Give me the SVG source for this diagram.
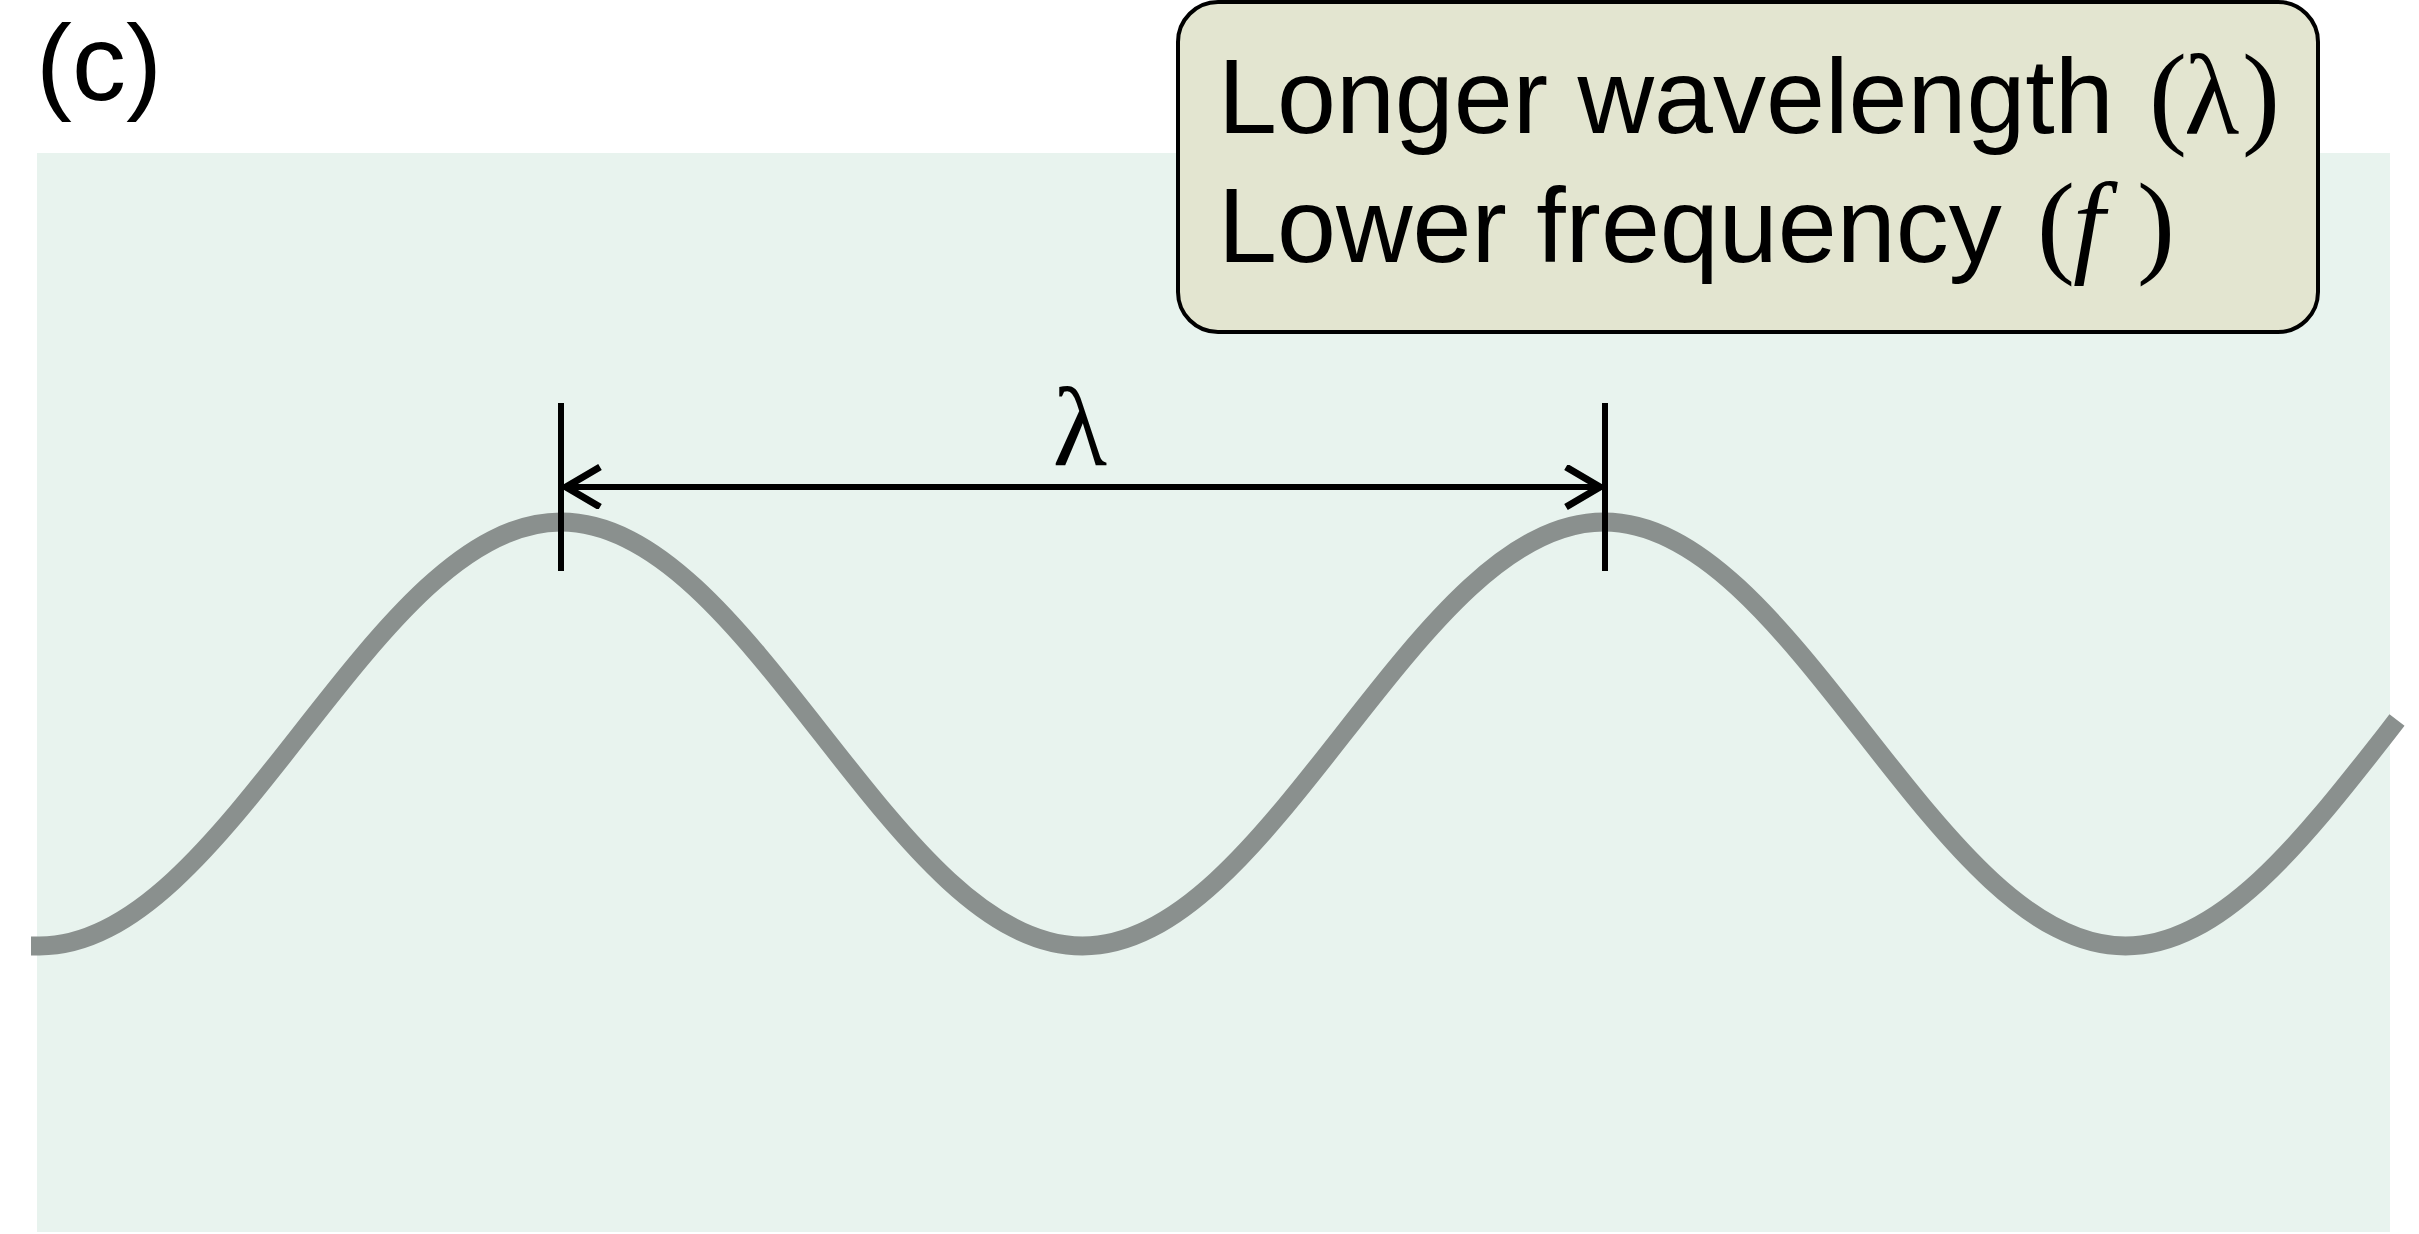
<svg xmlns="http://www.w3.org/2000/svg" width="2419" height="1234" viewBox="0 0 2419 1234">
<style>
.sans{font-family:"Liberation Sans",Arial,Helvetica,sans-serif;fill:#000}
.serif{font-family:"Liberation Serif","Times New Roman",serif;fill:#000}
.dim{stroke:#000;stroke-width:6;fill:none}
</style>
<defs>
<marker id="openArrow" markerUnits="userSpaceOnUse" markerWidth="50" markerHeight="50" refX="40" refY="22" orient="auto-start-reverse">
<polyline points="4,2 38,22 4,42" fill="none" stroke="#000" stroke-width="7"/>
</marker>
</defs>
<rect width="2419" height="1234" fill="#ffffff"/>
<g id="panel">
<rect x="37" y="153" width="2353" height="1079" fill="#e8f3ee"/>
</g>
<g id="label-c">
<text class="sans" x="36" y="100" font-size="108">(c)</text>
</g>
<g id="wave">
<path d="M 31 946 L 39.5 946 C 133.85 946 215.21 842.6 300.25 734 S 466.65 522 561 522 S 736.71 625.4 821.75 734 S 988.15 946 1082.5 946 S 1258.21 842.6 1343.25 734 S 1509.65 522 1604 522 S 1779.71 625.4 1864.75 734 S 2031.15 946 2125.5 946 S 2301.21 842.6 2386.25 734 L 2397 720" fill="none" stroke="#8a908e" stroke-width="19" stroke-linecap="butt"/>
</g>
<g id="connectors">
<line class="dim" x1="561" y1="403" x2="561" y2="571"/>
<line class="dim" x1="1605" y1="403" x2="1605" y2="571"/>
<line class="dim" x1="564" y1="487" x2="1602" y2="487" marker-start="url(#openArrow)" marker-end="url(#openArrow)"/>
</g>
<g id="lambda-label">
<text class="serif" x="1080" y="465" font-size="112" text-anchor="middle">λ</text>
</g>
<g id="info-box">
<rect x="1178" y="2" width="1140" height="330" rx="40" ry="40" fill="#e3e5d0" stroke="#000" stroke-width="4"/>
<text class="sans" x="1218" y="133" font-size="106">Longer wavelength</text>
<text class="serif" y="133" font-size="114"><tspan x="2149">(</tspan><tspan x="2184">λ</tspan><tspan x="2242">)</tspan></text>
<text class="sans" x="1218" y="262" font-size="106">Lower frequency</text>
<text class="serif" y="262" font-size="114"><tspan x="2037">(</tspan><tspan x="2073" font-style="italic">f</tspan><tspan x="2137">)</tspan></text>
</g>
</svg>
